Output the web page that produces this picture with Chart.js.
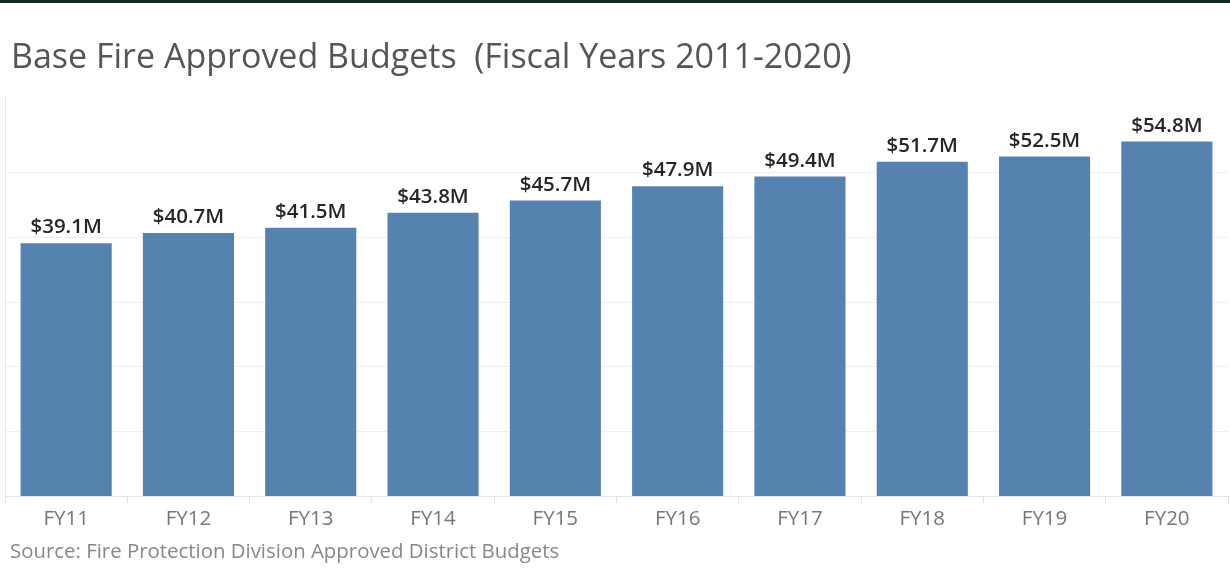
<!DOCTYPE html>
<html>
<head>
<meta charset="utf-8">
<script src="https://cdn.jsdelivr.net/npm/chart.js@4/dist/chart.umd.min.js"></script>
<style>
  html, body { margin: 0; padding: 0; background: #fff; width: 1230px; height: 587px; overflow: hidden; }
  #topbar { position: absolute; left: 0; top: 0; width: 1230px; height: 3px; background: #14291b; }
  #title { position: absolute; left: 11px; top: 38px; font-family: "Open Sans", sans-serif; font-size: 34px; line-height: 34px; color: #555; white-space: pre; }
  #source { position: absolute; left: 10px; top: 540px; font-family: "Open Sans", sans-serif; font-size: 20.4px; line-height: 20px; color: #888; white-space: pre; }
  #wrap { position: absolute; left: 0; top: 0; width: 1230px; height: 587px; }
</style>
</head>
<body>
<div id="topbar"></div>
<div id="wrap"><canvas id="c" width="1230" height="587"></canvas></div>
<div id="title">Base Fire Approved Budgets  (Fiscal Years 2011-2020)</div>
<div id="source">Source: Fire Protection Division Approved District Budgets</div>
<script>
const categories = ["FY11","FY12","FY13","FY14","FY15","FY16","FY17","FY18","FY19","FY20"];
const budgets = [39.1, 40.7, 41.5, 43.8, 45.7, 47.9, 49.4, 51.7, 52.5, 54.8];
const labels = ["$39.1M","$40.7M","$41.5M","$43.8M","$45.7M","$47.9M","$49.4M","$51.7M","$52.5M","$54.8M"];

const barLabels = {
  id: 'barLabels',
  afterDatasetsDraw(chart) {
    const ctx = chart.ctx;
    const meta = chart.getDatasetMeta(0);
    ctx.save();
    ctx.font = '600 20.5px "Open Sans", sans-serif';
    ctx.fillStyle = '#262626';
    ctx.textAlign = 'center';
    ctx.textBaseline = 'alphabetic';
    meta.data.forEach((el, i) => {
      ctx.fillText(labels[i], el.x, el.y - 10);
    });
    ctx.restore();
  }
};

new Chart(document.getElementById('c'), {
  type: 'bar',
  data: {
    labels: categories,
    datasets: [{
      data: budgets,
      backgroundColor: '#5682b0',
      borderWidth: 0,
      categoryPercentage: 1.0,
      barPercentage: 0.745
    }]
  },
  options: {
    responsive: false,
    animation: false,
    devicePixelRatio: 1,
    layout: { padding: { top: 95, left: 5, right: 2, bottom: 53 } },
    plugins: { legend: { display: false }, tooltip: { enabled: false }, title: { display: false } },
    scales: {
      x: {
        grid: { display: true, drawOnChartArea: false, drawTicks: true, tickLength: 7, color: '#e3e3e3', offset: true },
        border: { display: true, color: '#e3e3e3' },
        ticks: { color: '#777', font: { family: '"Open Sans", sans-serif', size: 20.5 }, padding: 3, maxRotation: 0 }
      },
      y: {
        min: 0, max: 62,
        afterBuildTicks: (scale) => { scale.ticks = scale.ticks.filter(t => t.value % 10 === 0); },
        grid: { color: '#efefef', drawTicks: false },
        border: { display: true, color: '#e8e8e8' },
        ticks: { display: false, stepSize: 10 }
      }
    }
  },
  plugins: [barLabels]
});
</script>
</body>
</html>
